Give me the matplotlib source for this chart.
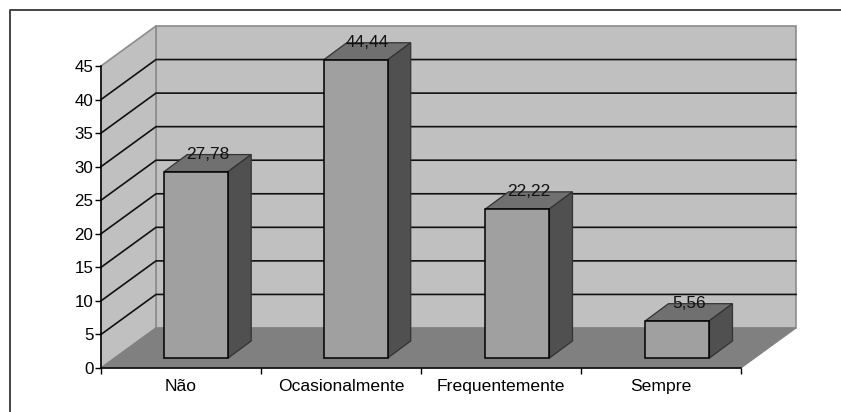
import matplotlib
matplotlib.use('Agg')
import matplotlib.pyplot as plt
from matplotlib.patches import Polygon
import numpy as np

plt.rcParams['font.family'] = ['Liberation Sans', 'DejaVu Sans']

categories = ['Não', 'Ocasionalmente', 'Frequentemente', 'Sempre']
values = [27.78, 44.44, 22.22, 5.56]
value_labels = ['27,78', '44,44', '22,22', '5,56']
y_ticks = [0, 5, 10, 15, 20, 25, 30, 35, 40, 45]

# fake 3D: how far the back wall and the bars are pushed, in axis units
wall_dx = 55 / 160
wall_dy = 40 / 6.71
bar_dx = 23 / 160
bar_dy = 17 / 6.71
bar_x_shift = [0.095, 0.092, 0.103, 0.103]
bar_y_shift = 10 / 6.71
bar_w = 0.4

fig = plt.figure(figsize=(8.41, 4.12), dpi=100)

# frame round the chart, only top and left show
fig.add_artist(plt.Line2D([9.5 / 841, 9.5 / 841, 1], [0, 1 - 10 / 412, 1 - 10 / 412],
                          color='#444444', lw=1.4))

ax = fig.add_axes([101 / 841, 44 / 412, 640 / 841, 302 / 412])
ax.set_xlim(0, 4)
ax.set_ylim(0, 45)
ax.patch.set_visible(False)

# walls and floor
ax.add_patch(Polygon([(wall_dx, wall_dy), (4 + wall_dx, wall_dy), (4 + wall_dx, 45 + wall_dy), (wall_dx, 45 + wall_dy)],
                     fc='#c0c0c0', ec='#8c8c8c', lw=1.2, clip_on=False, zorder=1))
ax.add_patch(Polygon([(0, 0), (wall_dx, wall_dy), (wall_dx, 45 + wall_dy), (0, 45)],
                     fc='#c0c0c0', ec='#8c8c8c', lw=1.2, clip_on=False, zorder=1))
ax.add_patch(Polygon([(0, 0), (4, 0), (4 + wall_dx, wall_dy), (wall_dx, wall_dy)],
                     fc='#808080', ec='#808080', lw=0.8, clip_on=False, zorder=1.5))

# grid lines run along the side wall then the back wall
for t in y_ticks[1:-1]:
    ax.plot([0, wall_dx, 4 + wall_dx], [t, t + wall_dy, t + wall_dy], color='#111111', lw=1.2,
            clip_on=False, zorder=2, solid_joinstyle='miter')

# bars
xpos = np.arange(len(values)) + 0.5 + np.array(bar_x_shift)
ax.bar(xpos, values, width=bar_w, bottom=bar_y_shift, color='#a0a0a0', edgecolor='black',
       linewidth=1.1, zorder=4, clip_on=False)
for x, v, lab in zip(xpos, values, value_labels):
    left = x - bar_w / 2
    right = x + bar_w / 2
    bot = bar_y_shift
    top = bar_y_shift + v
    ax.add_patch(Polygon([(left, top), (right, top), (right + bar_dx, top + bar_dy), (left + bar_dx, top + bar_dy)],
                         fc='#707070', ec='#333333', lw=0.9, clip_on=False, zorder=3))
    ax.add_patch(Polygon([(right, bot), (right + bar_dx, bot + bar_dy), (right + bar_dx, top + bar_dy), (right, top)],
                         fc='#505050', ec='#333333', lw=0.9, clip_on=False, zorder=3))
    ax.text(x + bar_dx / 2, top + bar_dy, lab, ha='center', va='center', fontsize=12.4,
            color='#111111', zorder=5, clip_on=False)

# axes
for side in ['top', 'right']:
    ax.spines[side].set_visible(False)
for side in ['left', 'bottom']:
    ax.spines[side].set_linewidth(1.1)
    ax.spines[side].set_zorder(6)
ax.set_yticks(y_ticks)
ax.set_yticklabels([str(t) for t in y_ticks], fontsize=12.2)
ax.tick_params(axis='y', length=4.5, width=1.0, pad=1)
ax.set_xticks(range(5))
ax.set_xticklabels([])
ax.tick_params(axis='x', which='major', length=4.5, width=1.0)
ax.set_xticks(np.arange(4) + 0.5, minor=True)
ax.set_xticklabels(categories, minor=True, fontsize=12.6)
ax.tick_params(axis='x', which='minor', length=0, pad=8)

fig.savefig('out.png', dpi=100)
